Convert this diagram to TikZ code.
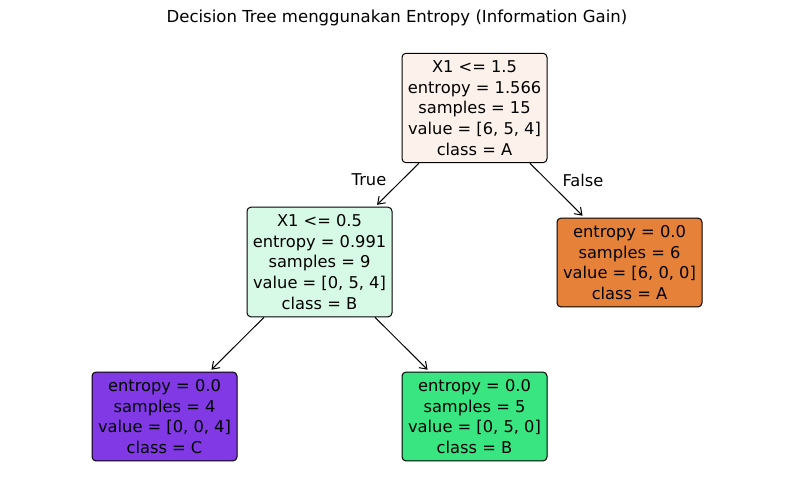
\documentclass[tikz,border=0pt]{standalone}
\usepackage{fontspec}
\setmainfont{DejaVu Sans}
\usetikzlibrary{arrows.meta,positioning}

\definecolor{clsA}{HTML}{E58139}
\definecolor{clsB}{HTML}{39E581}
\definecolor{clsC}{HTML}{8139E5}
\definecolor{rootfill}{HTML}{FCF2EB}
\definecolor{midfill}{HTML}{D7FAE6}

\tikzset{
  treenode/.style={draw, line width=0.75pt, rounded corners=3pt, align=center,
    minimum width=108.75pt, inner xsep=2pt, inner ysep=5.3pt,
    font=\fontsize{12.2}{15.6}\selectfont},
  branch/.style={->, >={Straight Barb[length=5pt,width=7pt]}, line width=0.75pt},
  branchlabel/.style={font=\fontsize{12.2}{15.6}\selectfont}
}

\begin{document}
\begin{tikzpicture}[x=0.75pt, y=-0.75pt]
      \useasboundingbox[fill=white] (0,0) rectangle (794,504);
      \node[font=\fontsize{12.4}{15.6}\selectfont] (title) at (397,18) {Decision Tree menggunakan Entropy (Information Gain)};

      \node[treenode, fill=rootfill] (root) at (474.5,108) {X1 <= 1.5\\entropy = 1.566\\samples = 15\\value = [6, 5, 4]\\class = A};
      \node[treenode, fill=midfill] (mid) at (319.5,262) {X1 <= 0.5\\entropy = 0.991\\samples = 9\\value = [0, 5, 4]\\class = B};
      \node[treenode, fill=clsA] (leafA) at (629.5,262.5) {entropy = 0.0\\samples = 6\\value = [6, 0, 0]\\class = A};
      \node[treenode, fill=clsC] (leafC) at (164.5,416.5) {entropy = 0.0\\samples = 4\\value = [0, 0, 4]\\class = C};
      \node[treenode, fill=clsB] (leafB) at (474.5,416.5) {entropy = 0.0\\samples = 5\\value = [0, 5, 0]\\class = B};

      \draw[branch, shorten >=2pt] (root) -- (mid);
      \draw[branch, shorten >=2pt] (root) -- (leafA);
      \draw[branch, shorten >=2pt] (mid) -- (leafC);
      \draw[branch, shorten >=2pt] (mid) -- (leafB);

      \node[branchlabel] (truelabel) at (369,180) {True};
      \node[branchlabel] (falselabel) at (583,180) {False};
\end{tikzpicture}
\end{document}
